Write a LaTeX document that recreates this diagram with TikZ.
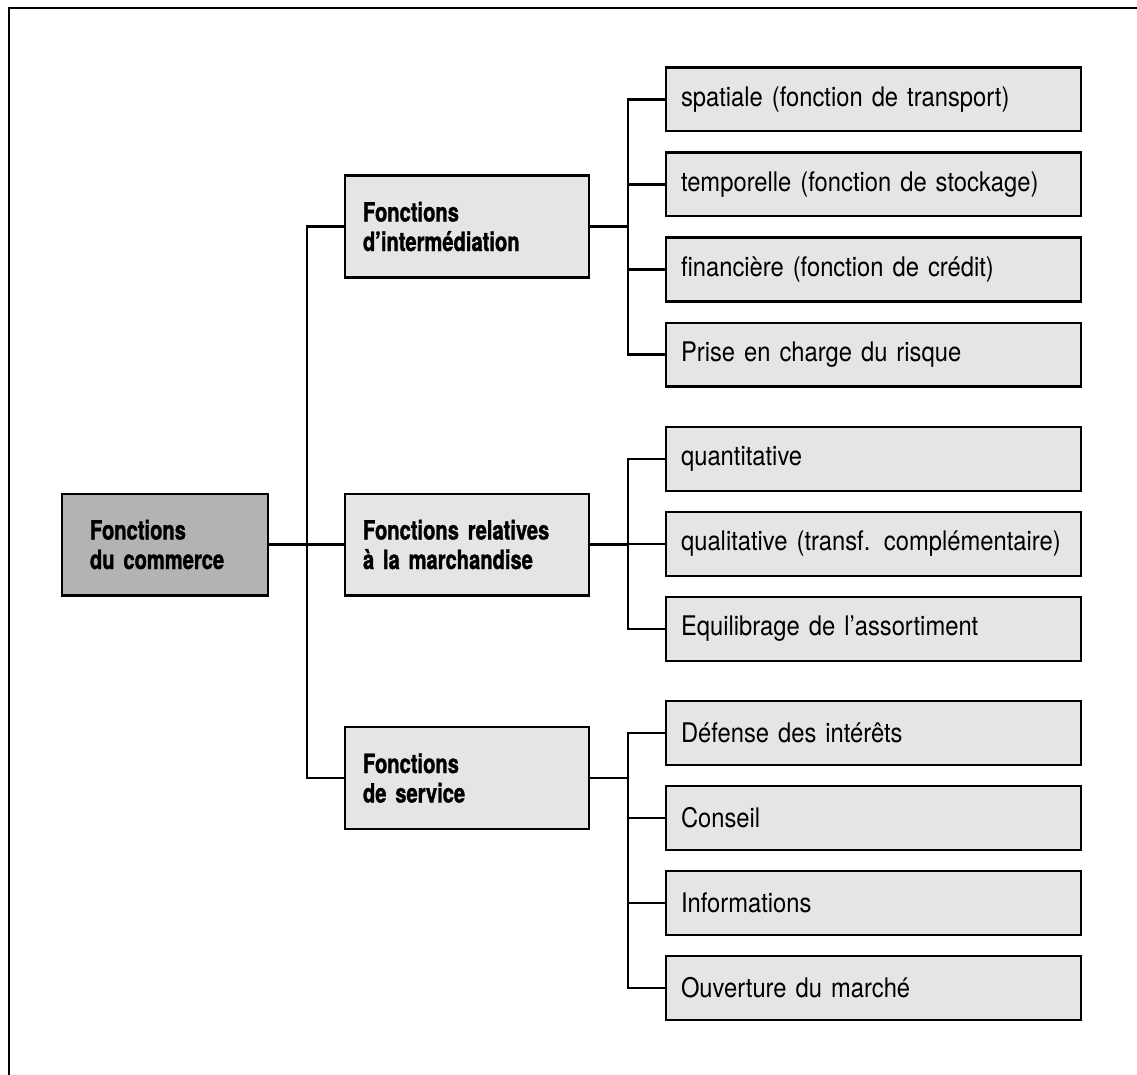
\documentclass[tikz,border=0pt]{standalone}
\usepackage{fontspec}
\setmainfont{TeX Gyre Heros}[FakeStretch=0.88]
\newfontfamily\headfont{TeX Gyre Heros}[FakeStretch=0.76, BoldFeatures={FakeBold=1.2}]
\definecolor{boxgray}{RGB}{229,229,229}
\definecolor{rootgray}{RGB}{179,179,179}
\begin{document}
\begin{tikzpicture}[x=1pt,y=-1pt,
  box/.style={draw=black, line width=2.2pt, fill=boxgray, align=left, anchor=center,
    font=\fontsize{27}{29}\selectfont},
  leafbox/.style={box, minimum height=63.8pt, text width=385pt, inner xsep=15pt, inner ysep=0pt},
  midbox/.style={box, minimum height=101.8pt, text width=208pt, inner xsep=18pt,
    font=\headfont\fontsize{26.5}{29.5}\selectfont\bfseries},
  rootbox/.style={midbox, fill=rootgray, text width=150pt, inner xsep=28pt},
  link/.style={line width=2.2pt, line cap=rect}]
\useasboundingbox (0,0) rectangle (1137,1075);

% frame (top and left edges only)
\draw[line width=2.2pt] (9,1075) -- (9,8) -- (1137,8);

% junction columns
\coordinate (j1) at (307,0);
\coordinate (j2) at (628,0);

% root
\node[rootbox] (root) at (165,544.5) {Fonctions\\du commerce};

% second level
\node[midbox] (m1) at (467,226.5) {Fonctions\\d’intermédiation};
\node[midbox] (m2) at (467,544.5) {Fonctions relatives\\à la marchandise};
\node[midbox] (m3) at (467,778) {Fonctions\\de service};

% leaves
\node[leafbox] (a1) at (873.5,99.5)  {spatiale (fonction de transport)};
\node[leafbox] (a2) at (873.5,184.5) {temporelle (fonction de stockage)};
\node[leafbox] (a3) at (873.5,269.5) {financière (fonction de crédit)};
\node[leafbox] (a4) at (873.5,354.5) {Prise en charge du risque};

\node[leafbox] (b1) at (873.5,459)   {quantitative};
\node[leafbox] (b2) at (873.5,544)   {qualitative (transf. complémentaire)};
\node[leafbox] (b3) at (873.5,629)   {Equilibrage de l’assortiment};

\node[leafbox] (c1) at (873.5,733)   {Défense des intérêts};
\node[leafbox] (c2) at (873.5,818)   {Conseil};
\node[leafbox] (c3) at (873.5,903)   {Informations};
\node[leafbox] (c4) at (873.5,988)   {Ouverture du marché};

% root to second level
\draw[link] (root.east) -- (root.east -| j1);
\draw[link] (m1.west -| j1) -- (m3.west -| j1);
\foreach \m in {m1,m2,m3}
  \draw[link] (\m.west -| j1) -- (\m.west);

% second level to leaves
\draw[link] (m1.east) -- (m1.east -| j2);
\draw[link] (a1.west -| j2) -- (a4.west -| j2);
\foreach \l in {a1,a2,a3,a4}
  \draw[link] (\l.west -| j2) -- (\l.west);

\draw[link] (m2.east) -- (m2.east -| j2);
\draw[link] (b1.west -| j2) -- (b3.west -| j2);
\foreach \l in {b1,b2,b3}
  \draw[link] (\l.west -| j2) -- (\l.west);

\draw[link] (m3.east) -- (m3.east -| j2);
\draw[link] (c1.west -| j2) -- (c4.west -| j2);
\foreach \l in {c1,c2,c3,c4}
  \draw[link] (\l.west -| j2) -- (\l.west);
\end{tikzpicture}
\end{document}
